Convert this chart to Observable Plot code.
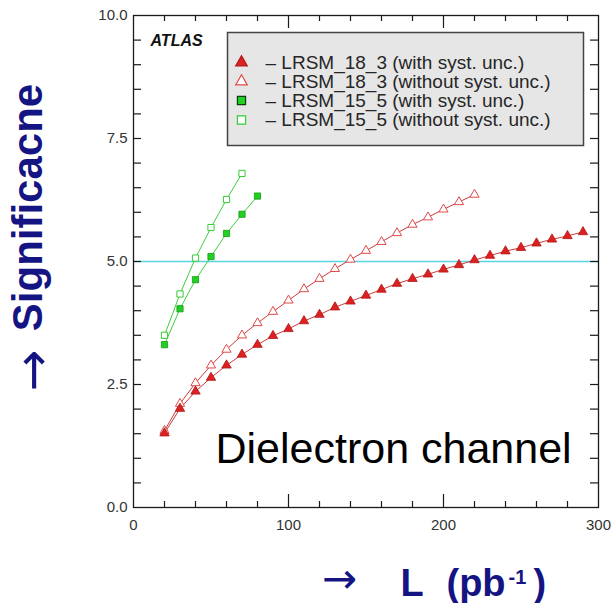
<!DOCTYPE html>
<html>
<head>
<meta charset="utf-8">
<script src="https://cdn.jsdelivr.net/npm/d3@7"></script>
<script src="https://cdn.jsdelivr.net/npm/@observablehq/plot@0.6"></script>
<style>
  body { margin: 0; background: #fff; }
  #chart { width: 613px; height: 603px; }
</style>
</head>
<body>
<div id="chart"></div>
<script>
// ---- data ----
const lumiRedSyst = [20,30,40,50,60,70,80,90,100,110,120,130,140,150,160,170,180,190,200,210,220,230,240,250,260,270,280,290];
const sigRedSyst  = [1.51,2.01,2.36,2.64,2.89,3.11,3.31,3.49,3.63,3.79,3.92,4.07,4.19,4.31,4.43,4.55,4.65,4.74,4.84,4.93,5.03,5.12,5.21,5.28,5.37,5.45,5.52,5.60];
const lumiRedNoSyst = [20,30,40,50,60,70,80,90,100,110,120,130,140,150,160,170,180,190,200,210,220];
const sigRedNoSyst  = [1.56,2.11,2.53,2.89,3.21,3.50,3.75,3.98,4.21,4.44,4.65,4.85,5.04,5.22,5.40,5.58,5.75,5.90,6.06,6.21,6.36];
const lumiGreenSyst = [20,30,40,50,60,70,80];
const sigGreenSyst  = [3.31,4.04,4.63,5.10,5.57,5.96,6.33];
const lumiGreenNoSyst = [20,30,40,50,60,70];
const sigGreenNoSyst  = [3.50,4.34,5.07,5.69,6.26,6.79];
const discoveryLevel = [5];

const legendLabels = [
  "\u2013 LRSM_18_3 (with syst. unc.)",
  "\u2013 LRSM_18_3 (without syst. unc.)",
  "\u2013 LRSM_15_5 (with syst. unc.)",
  "\u2013 LRSM_15_5 (without syst. unc.)"
];
const xTickLabels = [0, 100, 200, 300];
const yTickLabels = [0, 2.5, 5, 7.5, 10];
const xMinorTicks = [20,40,60,80,120,140,160,180,220,240,260,280];
const xMajorTicks = [100, 200];
const yTicks = [0.5,1,1.5,2,2.5,3,3.5,4,4.5,5,5.5,6,6.5,7,7.5,8,8.5,9,9.5];

// ---- build tables ----
const toRows = (xs, ys) => xs.map((x, i) => ({x, y: ys[i]}));
const redSyst = toRows(lumiRedSyst, sigRedSyst);
const redNoSyst = toRows(lumiRedNoSyst, sigRedNoSyst);
const greenSyst = toRows(lumiGreenSyst, sigGreenSyst);
const greenNoSyst = toRows(lumiGreenNoSyst, sigGreenNoSyst);

const RED_LINE = "#cc3b3b", RED_FILL = "#dd2020", RED_STROKE = "#b01818", RED_OPEN = "#e04a4a";
const GREEN_LINE = "#3fcc3f", GREEN_FILL = "#22d022", GREEN_STROKE = "#139a13", GREEN_OPEN = "#35cc35";
const NAVY = "#141482";
const ARROW_FONT = "'DejaVu Sans', sans-serif";

const W = 613, H = 603, ML = 133, MR = 15, MT = 15, MB = 96;
const PW = W - ML - MR, PH = H - MT - MB;

const legendStyles = [
  {symbol: "triangle", fill: RED_FILL, stroke: RED_STROKE, r: 4.3},
  {symbol: "triangle", fill: "white", stroke: RED_OPEN, r: 4.3},
  {symbol: "square", fill: GREEN_FILL, stroke: "#0d3d0d", r: 4.6},
  {symbol: "square", fill: "white", stroke: GREEN_OPEN, r: 4.6}
];
const legendRowY = [47, 66, 85, 104.5];

const legendMarks = legendLabels.flatMap((label, i) => [
  Plot.dot([label], {frameAnchor: "top-left", dx: 108, dy: legendRowY[i],
    symbol: legendStyles[i].symbol, fill: legendStyles[i].fill, stroke: legendStyles[i].stroke,
    r: legendStyles[i].r, strokeWidth: 1.2}),
  Plot.text([label], {frameAnchor: "top-left", dx: 132, dy: legendRowY[i], text: d => d,
    textAnchor: "start", lineAnchor: "middle", fontSize: 19, fill: "#262626"})
]);

const chart = Plot.plot({
  width: W, height: H,
  marginLeft: ML, marginRight: MR, marginTop: MT, marginBottom: MB,
  x: {domain: [0, 300]},
  y: {domain: [0, 10]},
  style: {fontFamily: "'Liberation Sans', Arial, Helvetica, sans-serif", background: "white", overflow: "visible"},
  marks: [
    Plot.ruleY(discoveryLevel, {stroke: "#5ad3e3", strokeWidth: 1.3}),
    // curves
    Plot.line(redSyst, {x: "x", y: "y", stroke: RED_LINE, strokeWidth: 1}),
    Plot.line(redNoSyst, {x: "x", y: "y", stroke: RED_LINE, strokeWidth: 1}),
    Plot.line(greenSyst, {x: "x", y: "y", stroke: GREEN_LINE, strokeWidth: 1}),
    Plot.line(greenNoSyst, {x: "x", y: "y", stroke: GREEN_LINE, strokeWidth: 1}),
    Plot.dot(redNoSyst, {x: "x", y: "y", symbol: "triangle", r: 3.4, fill: "white", stroke: RED_OPEN, strokeWidth: 1}),
    Plot.dot(redSyst, {x: "x", y: "y", symbol: "triangle", r: 3.5, fill: RED_FILL, stroke: RED_STROKE, strokeWidth: 0.8}),
    Plot.dot(greenNoSyst, {x: "x", y: "y", symbol: "square", r: 3.5, fill: "white", stroke: GREEN_OPEN, strokeWidth: 1}),
    Plot.dot(greenSyst, {x: "x", y: "y", symbol: "square", r: 3.5, fill: GREEN_FILL, stroke: GREEN_STROKE, strokeWidth: 0.8}),
    // frame and inward ticks
    Plot.frame({stroke: "#1a1a1a", strokeWidth: 1.3}),
    Plot.tickX(xMinorTicks, {x: d => d, insetTop: PH - 6, stroke: "#1a1a1a", strokeWidth: 1.2}),
    Plot.tickX(xMinorTicks, {x: d => d, insetBottom: PH - 6, stroke: "#1a1a1a", strokeWidth: 1.2}),
    Plot.tickX(xMajorTicks, {x: d => d, insetTop: PH - 13, stroke: "#1a1a1a", strokeWidth: 1.2}),
    Plot.tickX(xMajorTicks, {x: d => d, insetBottom: PH - 13, stroke: "#1a1a1a", strokeWidth: 1.2}),
    Plot.tickY(yTicks, {y: d => d, insetRight: PW - 8, stroke: "#1a1a1a", strokeWidth: 1.2}),
    Plot.tickY(yTicks, {y: d => d, insetLeft: PW - 8, stroke: "#1a1a1a", strokeWidth: 1.2}),
    Plot.axisX({ticks: xTickLabels, tickSize: 0, tickPadding: 12, fontSize: 15, fill: "#333", label: null, tickFormat: d => String(d)}),
    Plot.axisY({ticks: yTickLabels, tickSize: 0, tickPadding: 6, fontSize: 15, fill: "#333", label: null, tickFormat: d3.format(".1f")}),
    // legend
    Plot.frame({insetLeft: 94, insetRight: 15, insetTop: 17, insetBottom: 362, fill: "#e6e6e6", stroke: "#444", strokeWidth: 1.5}),
    ...legendMarks,
    Plot.text(["ATLAS"], {frameAnchor: "top-left", dx: 17, dy: 25, text: d => d, textAnchor: "start", lineAnchor: "middle",
      fontSize: 16, fontWeight: "bold", fontStyle: "italic", fill: "#111"}),
    // annotation
    Plot.text(["Dielectron channel"], {frameAnchor: "bottom-left", dx: 82, dy: -45, text: d => d,
      textAnchor: "start", fontSize: 43, fill: "#000"}),
    // axis titles
    Plot.text(["Significacne"], {frameAnchor: "left", dx: -105, dy: -54, rotate: -90, text: d => d,
      textAnchor: "middle", lineAnchor: "middle", fontSize: 42, fontWeight: "bold", fill: NAVY}),
    Plot.text(["\u2192"], {frameAnchor: "left", dx: -100, dy: 109, rotate: -90, text: d => d,
      textAnchor: "middle", lineAnchor: "middle", fontSize: 50, fontFamily: ARROW_FONT, fill: NAVY}),
    Plot.text(["\u2192"], {frameAnchor: "bottom-left", dx: 339 - ML, dy: 85, text: d => d,
      textAnchor: "middle", fontSize: 42, fontFamily: ARROW_FONT, fill: NAVY}),
    Plot.text(["L"], {frameAnchor: "bottom-left", dx: 400 - ML, dy: 88, text: d => d,
      textAnchor: "start", fontSize: 38, fontWeight: "bold", fill: NAVY}),
    Plot.text(["(pb"], {frameAnchor: "bottom-left", dx: 446 - ML, dy: 88, text: d => d,
      textAnchor: "start", fontSize: 38, fontWeight: "bold", fill: NAVY}),
    Plot.text(["-1"], {frameAnchor: "bottom-left", dx: 508 - ML, dy: 76, text: d => d,
      textAnchor: "start", fontSize: 20, fontWeight: "bold", fill: NAVY}),
    Plot.text([")"], {frameAnchor: "bottom-left", dx: 533 - ML, dy: 88, text: d => d,
      textAnchor: "start", fontSize: 38, fontWeight: "bold", fill: NAVY})
  ]
});
document.getElementById("chart").appendChild(chart);
</script>
</body>
</html>
